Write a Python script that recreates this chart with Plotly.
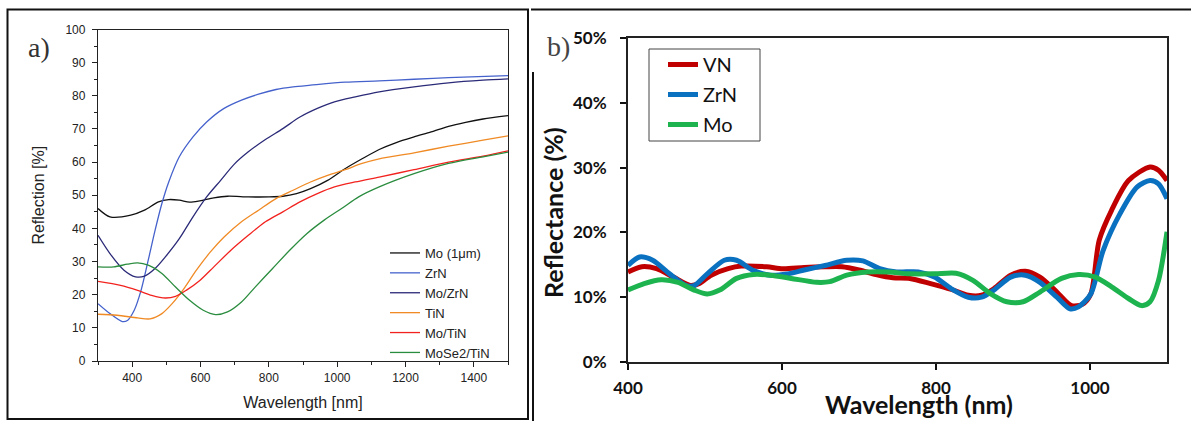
import plotly.graph_objects as go

W, H = 1191, 421

# ---------------- Panel a data ----------------
mo_x = [300, 335, 396, 436, 477, 507, 538, 568, 598, 639, 679, 740, 800, 841, 881, 922, 972, 1023, 1073, 1123, 1173, 1225, 1275, 1326, 1376, 1427, 1500]
mo_y = [46.0, 43.5, 44.0, 45.5, 48.0, 48.7, 48.5, 47.9, 48.3, 49.2, 49.7, 49.5, 49.5, 49.7, 50.5, 52.0, 54.5, 58.0, 61.0, 63.8, 65.9, 67.6, 69.1, 70.8, 72.0, 73.0, 74.0]

zrn_x = [300, 335, 371, 386, 406, 426, 447, 467, 487, 507, 538, 578, 618, 669, 720, 770, 821, 871, 922, 1023, 1123, 1225, 1326, 1500]
zrn_y = [17.3, 14.3, 11.9, 12.2, 15.3, 21.3, 30.4, 39.4, 47.5, 54.0, 61.6, 67.6, 72.1, 76.2, 78.7, 80.5, 81.9, 82.7, 83.2, 84.1, 84.5, 85.0, 85.5, 86.1]

mozrn_x = [300, 335, 376, 410, 436, 467, 497, 538, 578, 618, 659, 699, 740, 790, 841, 891, 942, 992, 1053, 1123, 1225, 1326, 1427, 1500]
mozrn_y = [37.9, 32.4, 27.4, 25.4, 25.6, 27.9, 31.4, 36.9, 43.5, 49.5, 54.5, 59.4, 63.1, 66.8, 70.1, 73.6, 76.2, 78.2, 79.7, 81.2, 82.7, 83.9, 84.7, 85.1]

tin_x = [300, 356, 416, 452, 487, 517, 548, 588, 629, 669, 720, 770, 821, 871, 922, 972, 1023, 1073, 1123, 1225, 1326, 1427, 1500]
tin_y = [14.1, 13.8, 13.0, 12.7, 14.3, 17.3, 21.3, 27.4, 32.9, 37.4, 42.0, 45.5, 49.0, 51.5, 54.0, 56.0, 57.7, 59.6, 61.0, 62.8, 64.8, 66.6, 67.9]

motin_x = [300, 366, 416, 457, 497, 527, 558, 598, 639, 689, 740, 790, 841, 891, 942, 992, 1053, 1123, 1225, 1326, 1427, 1500]
motin_y = [24.0, 22.8, 21.3, 19.8, 19.0, 19.5, 21.3, 24.3, 28.4, 33.4, 37.9, 42.0, 45.0, 48.0, 50.5, 52.5, 54.0, 55.5, 57.7, 60.0, 61.8, 63.4]

mose2_x = [300, 346, 386, 416, 447, 487, 527, 568, 608, 644, 679, 720, 760, 811, 861, 911, 962, 1013, 1063, 1123, 1225, 1326, 1427, 1500]
mose2_y = [28.4, 28.4, 29.2, 29.6, 28.9, 26.4, 22.3, 18.3, 15.3, 14.0, 14.8, 17.8, 22.3, 27.9, 33.4, 38.4, 42.5, 46.0, 49.5, 52.5, 56.5, 59.6, 61.6, 63.0]

# ---------------- Panel b data ----------------
vn_x = [400, 418, 437, 459, 481, 492, 508, 530, 547, 580, 601, 629, 656, 678, 700, 722, 744, 766, 793, 820, 842, 859, 875, 897, 916, 935, 957, 976, 990, 1001, 1012, 1028, 1050, 1078, 1089, 1100]
vn_y = [13.9, 14.7, 14.4, 13.1, 11.8, 12.1, 13.4, 14.4, 14.8, 14.7, 14.4, 14.6, 14.7, 14.7, 14.2, 13.5, 13.0, 12.9, 12.1, 11.2, 10.3, 10.3, 11.3, 13.4, 14.0, 13.1, 10.8, 8.7, 8.9, 10.5, 18.8, 23.4, 28.0, 30.1, 29.6, 28.0]

zrnb_x = [400, 415, 432, 454, 476, 486, 503, 525, 541, 563, 585, 607, 629, 656, 684, 705, 727, 749, 777, 798, 820, 842, 859, 875, 897, 916, 935, 957, 974, 985, 1001, 1017, 1039, 1061, 1078, 1089, 1100]
zrnb_y = [14.9, 16.2, 15.7, 13.6, 11.8, 11.8, 13.6, 15.7, 15.7, 14.1, 13.4, 13.6, 14.2, 14.9, 15.7, 15.6, 14.4, 13.9, 13.9, 13.1, 11.3, 10.0, 10.0, 11.1, 13.1, 13.4, 12.3, 10.0, 8.2, 8.5, 10.5, 17.2, 22.9, 27.0, 28.0, 27.5, 25.2]

mob_x = [400, 421, 443, 465, 486, 503, 519, 541, 563, 585, 612, 645, 662, 684, 711, 738, 766, 798, 826, 848, 870, 892, 913, 935, 963, 985, 1007, 1028, 1050, 1067, 1078, 1089, 1100]
mob_y = [11.1, 12.1, 12.7, 12.3, 11.1, 10.5, 11.1, 12.9, 13.5, 13.4, 12.9, 12.3, 12.4, 13.4, 13.9, 13.9, 13.6, 13.6, 13.7, 12.6, 10.6, 9.3, 9.3, 10.8, 12.9, 13.5, 13.1, 11.6, 9.8, 8.7, 9.3, 12.6, 20.1]

a_series = [
    ("Mo (1\u03bcm)", mo_x, mo_y, "#111111"),
    ("ZrN", zrn_x, zrn_y, "#4562cc"),
    ("Mo/ZrN", mozrn_x, mozrn_y, "#2b2a78"),
    ("TiN", tin_x, tin_y, "#f08a24"),
    ("Mo/TiN", motin_x, motin_y, "#f2231f"),
    ("MoSe2/TiN", mose2_x, mose2_y, "#2a8c3e"),
]
b_series = [
    ("VN", vn_x, vn_y, "#c00000"),
    ("ZrN", zrnb_x, zrnb_y, "#0a70c0"),
    ("Mo", mob_x, mob_y, "#1db34f"),
]


def px(x):
    return x / W


def py(y):
    return 1 - y / H


fig = go.Figure()
for name, xs, ys, col in a_series:
    fig.add_trace(go.Scatter(x=xs, y=ys, name=name, mode="lines",
                             line=dict(color=col, width=1.3, shape="spline", smoothing=0.8),
                             xaxis="x", yaxis="y", legend="legend"))
for i, (name, xs, ys, col) in enumerate(b_series):
    fig.add_trace(go.Scatter(x=xs, y=ys, name=name, mode="lines",
                             line=dict(color=col, width=5, shape="spline", smoothing=0.8),
                             xaxis="x2", yaxis="y2", legend="legend2", legendgroup="g%d" % i))

afont = dict(family="Liberation Sans, Arial", size=12, color="#222")
bfont = dict(family="Lato, Open Sans", size=17, color="#111", weight="bold")

fig.update_layout(
    width=W, height=H,
    margin=dict(l=0, r=0, t=0, b=0, autoexpand=False),
    paper_bgcolor="white", plot_bgcolor="white",
    showlegend=True,
    xaxis=dict(domain=[px(98), px(508)], range=[300, 1500], tick0=0, dtick=200,
               ticks="outside", ticklen=5, tickwidth=1.2, tickcolor="#222",
               minor=dict(dtick=100, tick0=0, ticks="outside", ticklen=3, tickcolor="#222"),
               showline=True, linecolor="#222", linewidth=1.3, mirror=True,
               showgrid=False, zeroline=False, tickfont=afont, automargin=False,
               title=dict(text="Wavelength [nm]", font=dict(family="Liberation Sans, Arial", size=16, color="#222"), standoff=13),
               anchor="y"),
    yaxis=dict(domain=[py(361), py(29.5)], range=[0, 100], dtick=10,
               ticks="outside", ticklen=5, tickwidth=1.2, tickcolor="#222",
               minor=dict(dtick=5, ticks="outside", ticklen=3, tickcolor="#222"),
               showline=True, linecolor="#222", linewidth=1.3, mirror=True,
               showgrid=False, zeroline=False, tickfont=afont, automargin=False,
               ticklabelstandoff=4,
               title=dict(text="Reflection [%]", font=dict(family="Liberation Sans, Arial", size=16, color="#222"), standoff=16),
               anchor="x"),
    xaxis2=dict(domain=[px(628), px(1167)], range=[400, 1100], tick0=0, dtick=200,
                ticks="outside", ticklen=6, tickwidth=2, tickcolor="#111",
                showline=True, linecolor="#222", linewidth=2, mirror=True,
                showgrid=False, zeroline=False, tickfont=bfont, ticklabelstandoff=4,
                automargin=False, anchor="y2"),
    yaxis2=dict(domain=[py(362), py(38)], range=[0, 50], dtick=10, ticksuffix="%",
                ticks="outside", ticklen=6, tickwidth=2, tickcolor="#111",
                showline=True, linecolor="#222", linewidth=2, mirror=True,
                showgrid=False, zeroline=False, tickfont=bfont, automargin=False,
                ticklabelstandoff=10, anchor="x2"),
    legend=dict(x=px(385), y=py(238), xanchor="left", yanchor="top",
                font=dict(family="Liberation Sans, Arial", size=13, color="#222"),
                bgcolor="rgba(255,255,255,0)", borderwidth=0, tracegroupgap=0),
    legend2=dict(x=px(663), y=py(45), xanchor="left", yanchor="top",
                 font=dict(family="Lato, Open Sans", size=20, color="#111"),
                 bgcolor="rgba(255,255,255,0)", borderwidth=0, tracegroupgap=1),
)

# outer frames and legend box of panel b
fig.add_shape(type="rect", xref="paper", yref="paper", x0=px(7.5), x1=px(528), y0=py(419), y1=py(9.5),
              line=dict(color="#111", width=2))
fig.add_shape(type="line", xref="paper", yref="paper", x0=px(531), x1=px(1191), y0=py(9.5), y1=py(9.5),
              line=dict(color="#111", width=2))
fig.add_shape(type="line", xref="paper", yref="paper", x0=px(533), x1=px(533), y0=py(72), y1=py(421),
              line=dict(color="#111", width=2))
fig.add_shape(type="rect", xref="paper", yref="paper", x0=px(649), x1=px(760), y0=py(141), y1=py(49),
              line=dict(color="#444", width=1), fillcolor="white", layer="above")

fig.add_annotation(text="Reflectance (%)", xref="paper", yref="paper", x=px(553), y=py(213),
                   showarrow=False, xanchor="center", yanchor="middle", textangle=-90,
                   font=dict(family="Lato, Open Sans", size=25, color="#111", weight="bold"))
fig.add_annotation(text="Wavelength (nm)", xref="paper", yref="paper", x=px(919), y=py(404),
                   showarrow=False, xanchor="center", yanchor="middle",
                   font=dict(family="Lato, Open Sans", size=25, color="#111", weight="bold"))
fig.add_annotation(text="a)", xref="paper", yref="paper", x=px(39), y=py(47),
                   showarrow=False, xanchor="center", yanchor="middle",
                   font=dict(family="Liberation Serif, DejaVu Serif", size=28, color="#333"))
fig.add_annotation(text="b)", xref="paper", yref="paper", x=px(558), y=py(46),
                   showarrow=False, xanchor="center", yanchor="middle", bgcolor="white", borderpad=2,
                   font=dict(family="Liberation Serif, DejaVu Serif", size=28, color="#444"))

fig.write_html("out.html", config={"displayModeBar": False},
               post_script="document.body.style.margin='0';document.body.style.overflow='hidden';")
